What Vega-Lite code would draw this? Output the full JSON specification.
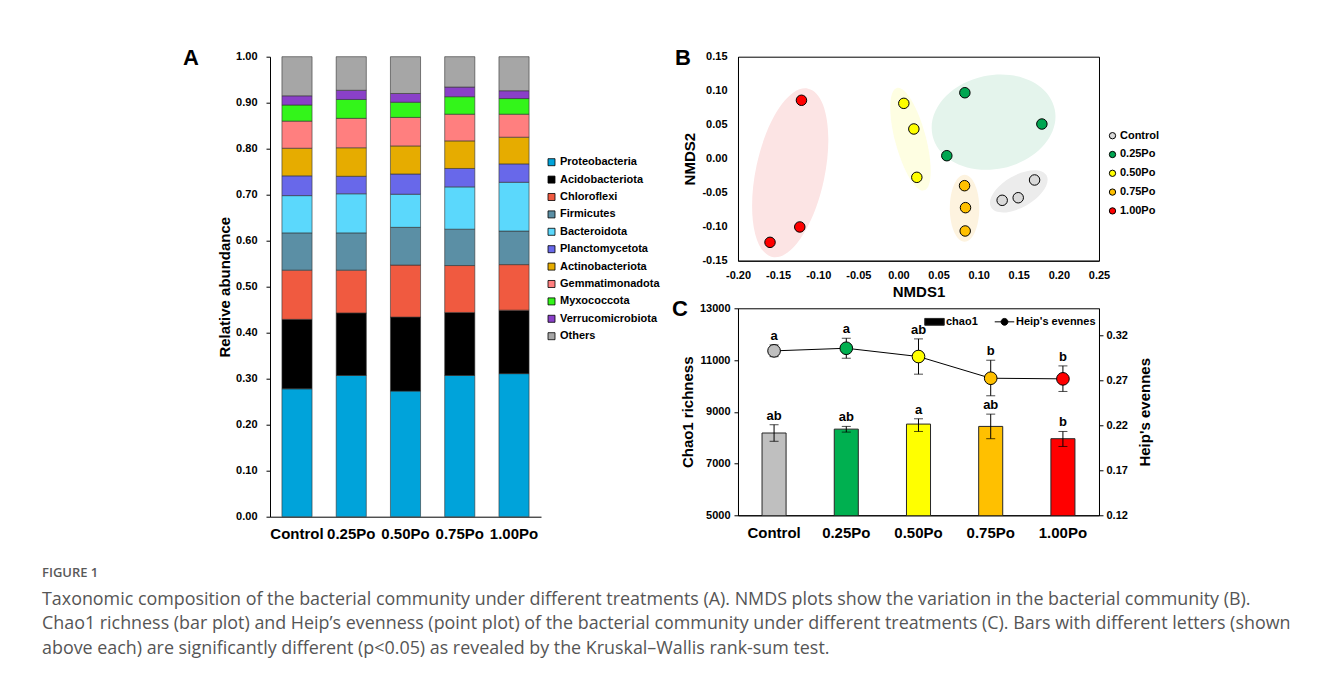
{
  "$schema": "https://vega.github.io/schema/vega-lite/v6.json",
  "background": "white",
  "padding": {"left": 42, "top": 45.7, "right": 5, "bottom": 5},
  "spacing": 11,
  "resolve": {"scale": {"fill": "independent", "stroke": "independent"}, "legend": {"fill": "independent", "stroke": "independent"}},
  "title": {
    "text": "FIGURE 1",
    "subtitle": [
      "Taxonomic composition of the bacterial community under different treatments (A). NMDS plots show the variation in the bacterial community (B).",
      "Chao1 richness (bar plot) and Heip’s evenness (point plot) of the bacterial community under different treatments (C). Bars with different letters (shown",
      "above each) are significantly different (p<0.05) as revealed by the Kruskal–Wallis rank-sum test."
    ],
    "orient": "bottom", "anchor": "start", "frame": "bounds",
    "dx": -141, "offset": 25,
    "font": "Open Sans", "fontSize": 13, "fontWeight": 600, "color": "#595959",
    "subtitleFont": "Open Sans", "subtitleFontSize": 17.9, "subtitleColor": "#555555",
    "subtitleLineHeight": 24.5, "subtitlePadding": 11
  },
  "config": {
    "font": "Liberation Sans",
    "view": {"stroke": null},
    "locale": {"number": {"decimal": ".", "thousands": ",", "grouping": [3], "currency": ["$", ""], "minus": "-"}},
    "axis": {
      "grid": false, "domainColor": "black", "domainWidth": 1, "tickColor": "black",
      "labelColor": "black", "titleColor": "black",
      "labelFont": "Liberation Sans", "titleFont": "Liberation Sans",
      "labelFontWeight": "bold", "titleFontWeight": "bold",
      "labelFontSize": 11, "titleFontSize": 15
    },
    "legend": {"labelFont": "Liberation Sans", "labelFontWeight": "bold", "labelFontSize": 11, "labelColor": "black"}
  },
  "datasets": {
    "abund": [
      {"treatment": "Control", "phylum": "Proteobacteria", "rank": 1, "value": 0.278},
      {"treatment": "Control", "phylum": "Acidobacteriota", "rank": 2, "value": 0.151},
      {"treatment": "Control", "phylum": "Chloroflexi", "rank": 3, "value": 0.107},
      {"treatment": "Control", "phylum": "Firmicutes", "rank": 4, "value": 0.081},
      {"treatment": "Control", "phylum": "Bacteroidota", "rank": 5, "value": 0.081},
      {"treatment": "Control", "phylum": "Planctomycetota", "rank": 6, "value": 0.043},
      {"treatment": "Control", "phylum": "Actinobacteriota", "rank": 7, "value": 0.060},
      {"treatment": "Control", "phylum": "Gemmatimonadota", "rank": 8, "value": 0.059},
      {"treatment": "Control", "phylum": "Myxococcota", "rank": 9, "value": 0.035},
      {"treatment": "Control", "phylum": "Verrucomicrobiota", "rank": 10, "value": 0.020},
      {"treatment": "Control", "phylum": "Others", "rank": 11, "value": 0.085},
      {"treatment": "0.25Po", "phylum": "Proteobacteria", "rank": 1, "value": 0.307},
      {"treatment": "0.25Po", "phylum": "Acidobacteriota", "rank": 2, "value": 0.136},
      {"treatment": "0.25Po", "phylum": "Chloroflexi", "rank": 3, "value": 0.093},
      {"treatment": "0.25Po", "phylum": "Firmicutes", "rank": 4, "value": 0.081},
      {"treatment": "0.25Po", "phylum": "Bacteroidota", "rank": 5, "value": 0.085},
      {"treatment": "0.25Po", "phylum": "Planctomycetota", "rank": 6, "value": 0.038},
      {"treatment": "0.25Po", "phylum": "Actinobacteriota", "rank": 7, "value": 0.062},
      {"treatment": "0.25Po", "phylum": "Gemmatimonadota", "rank": 8, "value": 0.064},
      {"treatment": "0.25Po", "phylum": "Myxococcota", "rank": 9, "value": 0.041},
      {"treatment": "0.25Po", "phylum": "Verrucomicrobiota", "rank": 10, "value": 0.020},
      {"treatment": "0.25Po", "phylum": "Others", "rank": 11, "value": 0.073},
      {"treatment": "0.50Po", "phylum": "Proteobacteria", "rank": 1, "value": 0.273},
      {"treatment": "0.50Po", "phylum": "Acidobacteriota", "rank": 2, "value": 0.161},
      {"treatment": "0.50Po", "phylum": "Chloroflexi", "rank": 3, "value": 0.113},
      {"treatment": "0.50Po", "phylum": "Firmicutes", "rank": 4, "value": 0.082},
      {"treatment": "0.50Po", "phylum": "Bacteroidota", "rank": 5, "value": 0.072},
      {"treatment": "0.50Po", "phylum": "Planctomycetota", "rank": 6, "value": 0.044},
      {"treatment": "0.50Po", "phylum": "Actinobacteriota", "rank": 7, "value": 0.061},
      {"treatment": "0.50Po", "phylum": "Gemmatimonadota", "rank": 8, "value": 0.062},
      {"treatment": "0.50Po", "phylum": "Myxococcota", "rank": 9, "value": 0.033},
      {"treatment": "0.50Po", "phylum": "Verrucomicrobiota", "rank": 10, "value": 0.019},
      {"treatment": "0.50Po", "phylum": "Others", "rank": 11, "value": 0.080},
      {"treatment": "0.75Po", "phylum": "Proteobacteria", "rank": 1, "value": 0.307},
      {"treatment": "0.75Po", "phylum": "Acidobacteriota", "rank": 2, "value": 0.137},
      {"treatment": "0.75Po", "phylum": "Chloroflexi", "rank": 3, "value": 0.102},
      {"treatment": "0.75Po", "phylum": "Firmicutes", "rank": 4, "value": 0.079},
      {"treatment": "0.75Po", "phylum": "Bacteroidota", "rank": 5, "value": 0.092},
      {"treatment": "0.75Po", "phylum": "Planctomycetota", "rank": 6, "value": 0.040},
      {"treatment": "0.75Po", "phylum": "Actinobacteriota", "rank": 7, "value": 0.060},
      {"treatment": "0.75Po", "phylum": "Gemmatimonadota", "rank": 8, "value": 0.058},
      {"treatment": "0.75Po", "phylum": "Myxococcota", "rank": 9, "value": 0.038},
      {"treatment": "0.75Po", "phylum": "Verrucomicrobiota", "rank": 10, "value": 0.021},
      {"treatment": "0.75Po", "phylum": "Others", "rank": 11, "value": 0.066},
      {"treatment": "1.00Po", "phylum": "Proteobacteria", "rank": 1, "value": 0.311},
      {"treatment": "1.00Po", "phylum": "Acidobacteriota", "rank": 2, "value": 0.138},
      {"treatment": "1.00Po", "phylum": "Chloroflexi", "rank": 3, "value": 0.099},
      {"treatment": "1.00Po", "phylum": "Firmicutes", "rank": 4, "value": 0.073},
      {"treatment": "1.00Po", "phylum": "Bacteroidota", "rank": 5, "value": 0.106},
      {"treatment": "1.00Po", "phylum": "Planctomycetota", "rank": 6, "value": 0.040},
      {"treatment": "1.00Po", "phylum": "Actinobacteriota", "rank": 7, "value": 0.058},
      {"treatment": "1.00Po", "phylum": "Gemmatimonadota", "rank": 8, "value": 0.050},
      {"treatment": "1.00Po", "phylum": "Myxococcota", "rank": 9, "value": 0.034},
      {"treatment": "1.00Po", "phylum": "Verrucomicrobiota", "rank": 10, "value": 0.017},
      {"treatment": "1.00Po", "phylum": "Others", "rank": 11, "value": 0.074}
    ],
    "nmds": [
      {"treatment": "Control", "x": 0.1293, "y": -0.0612},
      {"treatment": "Control", "x": 0.1493, "y": -0.0574},
      {"treatment": "Control", "x": 0.1697, "y": -0.0313},
      {"treatment": "0.25Po", "x": 0.0828, "y": 0.097},
      {"treatment": "0.25Po", "x": 0.1788, "y": 0.051},
      {"treatment": "0.25Po", "x": 0.0603, "y": 0.0044},
      {"treatment": "0.50Po", "x": 0.0067, "y": 0.0814},
      {"treatment": "0.50Po", "x": 0.0192, "y": 0.0437},
      {"treatment": "0.50Po", "x": 0.0229, "y": -0.0274},
      {"treatment": "0.75Po", "x": 0.0824, "y": -0.0397},
      {"treatment": "0.75Po", "x": 0.0836, "y": -0.072},
      {"treatment": "0.75Po", "x": 0.0832, "y": -0.1063},
      {"treatment": "1.00Po", "x": -0.1209, "y": 0.0859},
      {"treatment": "1.00Po", "x": -0.123, "y": -0.1004},
      {"treatment": "1.00Po", "x": -0.1601, "y": -0.123}
    ],
    "hulls": [
      {"treatment": "1.00Po", "x": -0.1349, "y": -0.0207},
      {"treatment": "0.25Po", "x": 0.1186, "y": 0.0537},
      {"treatment": "0.50Po", "x": 0.0151, "y": 0.0287},
      {"treatment": "0.75Po", "x": 0.0824, "y": -0.073},
      {"treatment": "Control", "x": 0.150, "y": -0.048}
    ],
    "alpha": [
      {"treatment": "Control", "chao1": 8180, "chao1_lo": 7860, "chao1_hi": 8500, "chao1_sig": "ab", "heip": 0.3027, "heip_lo": 0.2963, "heip_hi": 0.3093, "heip_sig": "a"},
      {"treatment": "0.25Po", "chao1": 8330, "chao1_lo": 8215, "chao1_hi": 8435, "chao1_sig": "ab", "heip": 0.3056, "heip_lo": 0.2945, "heip_hi": 0.3167, "heip_sig": "a"},
      {"treatment": "0.50Po", "chao1": 8525, "chao1_lo": 8240, "chao1_hi": 8730, "chao1_sig": "a", "heip": 0.2964, "heip_lo": 0.2768, "heip_hi": 0.316, "heip_sig": "ab"},
      {"treatment": "0.75Po", "chao1": 8435, "chao1_lo": 7960, "chao1_hi": 8910, "chao1_sig": "ab", "heip": 0.2723, "heip_lo": 0.2528, "heip_hi": 0.2923, "heip_sig": "b"},
      {"treatment": "1.00Po", "chao1": 7960, "chao1_lo": 7660, "chao1_hi": 8240, "chao1_sig": "b", "heip": 0.2716, "heip_lo": 0.2576, "heip_hi": 0.286, "heip_sig": "b"}
    ]
  },
  "hconcat": [
    {
      "width": 271, "height": 460,
      "title": {"text": "A", "anchor": "start", "frame": "group", "baseline": "alphabetic", "font": "Liberation Sans", "fontSize": 22, "fontWeight": "bold", "color": "black", "dx": -87, "dy": 36, "offset": 0},
      "data": {"name": "abund"},
      "mark": {"type": "bar", "stroke": "#333333", "strokeWidth": 0.6},
      "encoding": {
        "x": {"field": "treatment", "type": "nominal", "sort": ["Control", "0.25Po", "0.50Po", "0.75Po", "1.00Po"],
              "scale": {"paddingInner": 0.445, "paddingOuter": 0.22},
              "axis": {"title": null, "labelAngle": 0, "ticks": false, "labelFontSize": 15, "labelPadding": 10, "labelOverlap": false, "labelLimit": 0}},
        "y": {"field": "value", "type": "quantitative", "stack": "zero",
              "scale": {"domain": [0, 1], "nice": false},
              "axis": {"title": "Relative abundance", "values": [0, 0.1, 0.2, 0.3, 0.4, 0.5, 0.6, 0.7, 0.8, 0.9, 1], "format": ".2f", "tickSize": 4, "labelPadding": 9, "titlePadding": 3}},
        "fill": {"field": "phylum", "type": "nominal",
                 "scale": {"domain": ["Proteobacteria", "Acidobacteriota", "Chloroflexi", "Firmicutes", "Bacteroidota", "Planctomycetota", "Actinobacteriota", "Gemmatimonadota", "Myxococcota", "Verrucomicrobiota", "Others"],
                           "range": ["#00a3da", "#000000", "#f05a40", "#5b8fa5", "#5bd8fc", "#6868ea", "#e6ac00", "#ff7f7f", "#33f51a", "#8a40c8", "#a6a6a6"]},
                 "legend": {"title": null, "orient": "none", "legendX": 276, "legendY": 100, "symbolType": "square", "symbolSize": 49, "symbolStrokeColor": "black", "symbolStrokeWidth": 0.8, "labelFontSize": 11, "labelFontWeight": "bold", "rowPadding": 5.4, "labelOffset": 3, "padding": 0}},
        "order": {"field": "rank", "type": "quantitative", "sort": "ascending"}
      }
    },
    {
      "spacing": -3.4,
      "resolve": {"scale": {"fill": "independent", "stroke": "independent"}, "legend": {"fill": "independent", "stroke": "independent"}},
      "vconcat": [
        {
          "width": 361, "height": 204,
          "view": {"stroke": "black", "strokeWidth": 1},
          "title": {"text": "B", "anchor": "start", "frame": "group", "baseline": "alphabetic", "font": "Liberation Sans", "fontSize": 22, "fontWeight": "bold", "color": "black", "dx": -63, "dy": 36, "offset": 0},
          "encoding": {
            "x": {"field": "x", "type": "quantitative", "scale": {"domain": [-0.2, 0.25], "nice": false, "zero": false},
                  "axis": {"title": "NMDS1", "values": [-0.2, -0.15, -0.1, -0.05, 0, 0.05, 0.1, 0.15, 0.2, 0.25], "format": ".2f", "ticks": false, "labelPadding": 9, "titlePadding": 4, "labelFlush": false, "labelOverlap": false}},
            "y": {"field": "y", "type": "quantitative", "scale": {"domain": [-0.15, 0.15], "nice": false, "zero": false},
                  "axis": {"title": "NMDS2", "values": [-0.15, -0.1, -0.05, 0, 0.05, 0.1, 0.15], "format": ".2f", "ticks": false, "labelPadding": 11, "titlePadding": 4, "labelFlush": false, "labelOverlap": false}}
          },
          "layer": [
            {"data": {"name": "hulls"}, "transform": [{"filter": "datum.treatment === '1.00Po'"}],
             "mark": {"type": "point", "filled": true, "shape": "M -1 0 C -1 -0.2209 -0.5523 -0.4 0 -0.4 C 0.5523 -0.4 1 -0.2209 1 0 C 1 0.2209 0.5523 0.4 0 0.4 C -0.5523 0.4 -1 0.2209 -1 0 Z", "size": 29600, "angle": -78, "fill": "#fce4e4", "opacity": 1, "strokeWidth": 0}},
            {"data": {"name": "hulls"}, "transform": [{"filter": "datum.treatment === '0.25Po'"}],
             "mark": {"type": "point", "filled": true, "shape": "M -1 0 C -1 -0.4142 -0.5523 -0.75 0 -0.75 C 0.5523 -0.75 1 -0.4142 1 0 C 1 0.4142 0.5523 0.75 0 0.75 C -0.5523 0.75 -1 0.4142 -1 0 Z", "size": 15625, "angle": -12, "fill": "#e4f4ec", "opacity": 1, "strokeWidth": 0}},
            {"data": {"name": "hulls"}, "transform": [{"filter": "datum.treatment === '0.50Po'"}],
             "mark": {"type": "point", "filled": true, "shape": "M -1 0 C -1 -0.1602 -0.5523 -0.29 0 -0.29 C 0.5523 -0.29 1 -0.1602 1 0 C 1 0.1602 0.5523 0.29 0 0.29 C -0.5523 0.29 -1 0.1602 -1 0 Z", "size": 11236, "angle": 75, "fill": "#fefee2", "opacity": 1, "strokeWidth": 0}},
            {"data": {"name": "hulls"}, "transform": [{"filter": "datum.treatment === '0.75Po'"}],
             "mark": {"type": "point", "filled": true, "shape": "M -1 0 C -1 -0.243 -0.5523 -0.44 0 -0.44 C 0.5523 -0.44 1 -0.243 1 0 C 1 0.243 0.5523 0.44 0 0.44 C -0.5523 0.44 -1 0.243 -1 0 Z", "size": 4489, "angle": 90, "fill": "#fdf3df", "opacity": 1, "strokeWidth": 0}},
            {"data": {"name": "hulls"}, "transform": [{"filter": "datum.treatment === 'Control'"}],
             "mark": {"type": "point", "filled": true, "shape": "M -1 0 C -1 -0.2762 -0.5523 -0.5 0 -0.5 C 0.5523 -0.5 1 -0.2762 1 0 C 1 0.2762 0.5523 0.5 0 0.5 C -0.5523 0.5 -1 0.2762 -1 0 Z", "size": 4096, "angle": -30, "fill": "#ececec", "opacity": 1, "strokeWidth": 0}},
            {"data": {"name": "nmds"},
             "mark": {"type": "point", "filled": true, "size": 110, "stroke": "black", "strokeWidth": 1, "opacity": 1},
             "encoding": {
               "fill": {"field": "treatment", "type": "nominal",
                        "scale": {"domain": ["Control", "0.25Po", "0.50Po", "0.75Po", "1.00Po"], "range": ["#d9d9d9", "#00a651", "#ffff00", "#ffc000", "#ff0000"]},
                        "legend": {"title": null, "orient": "none", "legendX": 369, "legendY": 73.5, "symbolType": "circle", "symbolSize": 40, "symbolStrokeColor": "black", "symbolStrokeWidth": 1, "labelFontSize": 11, "labelFontWeight": "bold", "rowPadding": 6.8, "labelOffset": 2, "padding": 0}}
             }}
          ]
        },
        {
          "width": 361, "height": 207,
          "view": {"stroke": "black", "strokeWidth": 1},
          "title": {"text": "C", "anchor": "start", "frame": "group", "baseline": "alphabetic", "font": "Liberation Sans", "fontSize": 22, "fontWeight": "bold", "color": "black", "dx": -66, "dy": 36, "offset": 0},
          "data": {"name": "alpha"},
          "encoding": {
            "x": {"field": "treatment", "type": "nominal", "sort": ["Control", "0.25Po", "0.50Po", "0.75Po", "1.00Po"],
                  "scale": {"paddingInner": 0.667, "paddingOuter": 0.333},
                  "axis": {"title": null, "labelAngle": 0, "ticks": false, "labelFontSize": 15, "labelPadding": 10, "labelOverlap": false, "labelLimit": 0}}
          },
          "layer": [
            {"layer": [
              {"mark": {"type": "bar", "strokeWidth": 1, "clip": true},
               "encoding": {
                 "y": {"field": "chao1", "type": "quantitative", "title": "Chao1 richness",
                       "scale": {"domain": [5000, 13000], "nice": false, "zero": false},
                       "axis": {"values": [5000, 7000, 9000, 11000, 13000], "format": "d", "tickSize": 4, "labelPadding": 4, "titlePadding": 4}},
                 "fill": {"field": "treatment", "type": "nominal",
                          "scale": {"domain": ["Control", "0.25Po", "0.50Po", "0.75Po", "1.00Po"], "range": ["#bfbfbf", "#00b050", "#ffff00", "#ffc000", "#ff0000"]},
                          "legend": null},
                 "stroke": {"datum": "chao1", "type": "nominal",
                            "scale": {"domain": ["chao1", "Heip's evennes"], "range": ["#262626", "black"]},
                            "legend": {"title": null, "orient": "none", "legendX": 186, "legendY": 3, "direction": "horizontal", "symbolSize": 380, "labelFontSize": 11, "labelFontWeight": "bold", "labelOffset": 1, "columnPadding": 14, "padding": 0,
                                       "encode": {"symbols": {"update": {
                                         "shape": {"signal": "datum.value === 'chao1' ? 'M -1 -0.35 L 1 -0.35 L 1 0.35 L -1 0.35 Z' : 'M -1 0 L 1 0 M 0.35 0 C 0.35 0.193 0.193 0.35 0 0.35 C -0.193 0.35 -0.35 0.193 -0.35 0 C -0.35 -0.193 -0.193 -0.35 0 -0.35 C 0.193 -0.35 0.35 -0.193 0.35 0 Z'"},
                                         "size": {"value": 380}, "fill": {"value": "black"}, "stroke": {"value": "black"}, "strokeWidth": {"value": 1}, "opacity": {"value": 1}, "fillOpacity": {"value": 1}, "strokeOpacity": {"value": 1}}}}}}
               }},
              {"mark": {"type": "errorbar", "ticks": {"size": 9}, "color": "black"},
               "encoding": {
                 "y": {"field": "chao1_lo", "type": "quantitative", "title": "Chao1 richness", "scale": {"domain": [5000, 13000], "nice": false, "zero": false}},
                 "y2": {"field": "chao1_hi"}
               }},
              {"mark": {"type": "text", "font": "Liberation Sans", "fontSize": 13, "fontWeight": "bold", "baseline": "middle", "dy": -9, "color": "black"},
               "encoding": {
                 "y": {"field": "chao1_hi", "type": "quantitative", "title": "Chao1 richness", "scale": {"domain": [5000, 13000], "nice": false, "zero": false}},
                 "text": {"field": "chao1_sig"}
               }}
            ]},
            {"layer": [
              {"mark": {"type": "line", "strokeWidth": 1},
               "encoding": {
                 "y": {"field": "heip", "type": "quantitative", "title": "Heip's evennes",
                       "scale": {"domain": [0.12, 0.35], "nice": false, "zero": false},
                       "axis": {"orient": "right", "values": [0.12, 0.17, 0.22, 0.27, 0.32], "format": ".2f", "tickSize": 4, "labelPadding": 3, "titlePadding": 10, "titleAngle": 270, "titleBaseline": "top"}},
                 "stroke": {"datum": "Heip's evennes", "type": "nominal",
                            "scale": {"domain": ["chao1", "Heip's evennes"], "range": ["#262626", "black"]},
                            "legend": {"title": null, "orient": "none", "legendX": 186, "legendY": 3, "direction": "horizontal", "symbolSize": 380, "labelFontSize": 11, "labelFontWeight": "bold", "labelOffset": 1, "columnPadding": 14, "padding": 0,
                                       "encode": {"symbols": {"update": {
                                         "shape": {"signal": "datum.value === 'chao1' ? 'M -1 -0.35 L 1 -0.35 L 1 0.35 L -1 0.35 Z' : 'M -1 0 L 1 0 M 0.35 0 C 0.35 0.193 0.193 0.35 0 0.35 C -0.193 0.35 -0.35 0.193 -0.35 0 C -0.35 -0.193 -0.193 -0.35 0 -0.35 C 0.193 -0.35 0.35 -0.193 0.35 0 Z'"},
                                         "size": {"value": 380}, "fill": {"value": "black"}, "stroke": {"value": "black"}, "strokeWidth": {"value": 1}, "opacity": {"value": 1}, "fillOpacity": {"value": 1}, "strokeOpacity": {"value": 1}}}}}}
               }},
              {"mark": {"type": "errorbar", "ticks": {"size": 9}, "color": "black"},
               "encoding": {
                 "y": {"field": "heip_lo", "type": "quantitative", "title": "Heip's evennes", "scale": {"domain": [0.12, 0.35], "nice": false, "zero": false}},
                 "y2": {"field": "heip_hi"}
               }},
              {"mark": {"type": "point", "filled": true, "size": 160, "stroke": "black", "strokeWidth": 1, "opacity": 1},
               "encoding": {
                 "y": {"field": "heip", "type": "quantitative", "title": "Heip's evennes", "scale": {"domain": [0.12, 0.35], "nice": false, "zero": false}},
                 "fill": {"field": "treatment", "type": "nominal",
                          "scale": {"domain": ["Control", "0.25Po", "0.50Po", "0.75Po", "1.00Po"], "range": ["#bfbfbf", "#00b050", "#ffff00", "#ffc000", "#ff0000"]},
                          "legend": null}
               }},
              {"mark": {"type": "text", "font": "Liberation Sans", "fontSize": 13, "fontWeight": "bold", "baseline": "middle", "dy": -9, "color": "black"},
               "encoding": {
                 "y": {"field": "heip_hi", "type": "quantitative", "title": "Heip's evennes", "scale": {"domain": [0.12, 0.35], "nice": false, "zero": false}},
                 "text": {"field": "heip_sig"}
               }}
            ]}
          ],
          "resolve": {"scale": {"y": "independent"}}
        }
      ]
    }
  ]
}
